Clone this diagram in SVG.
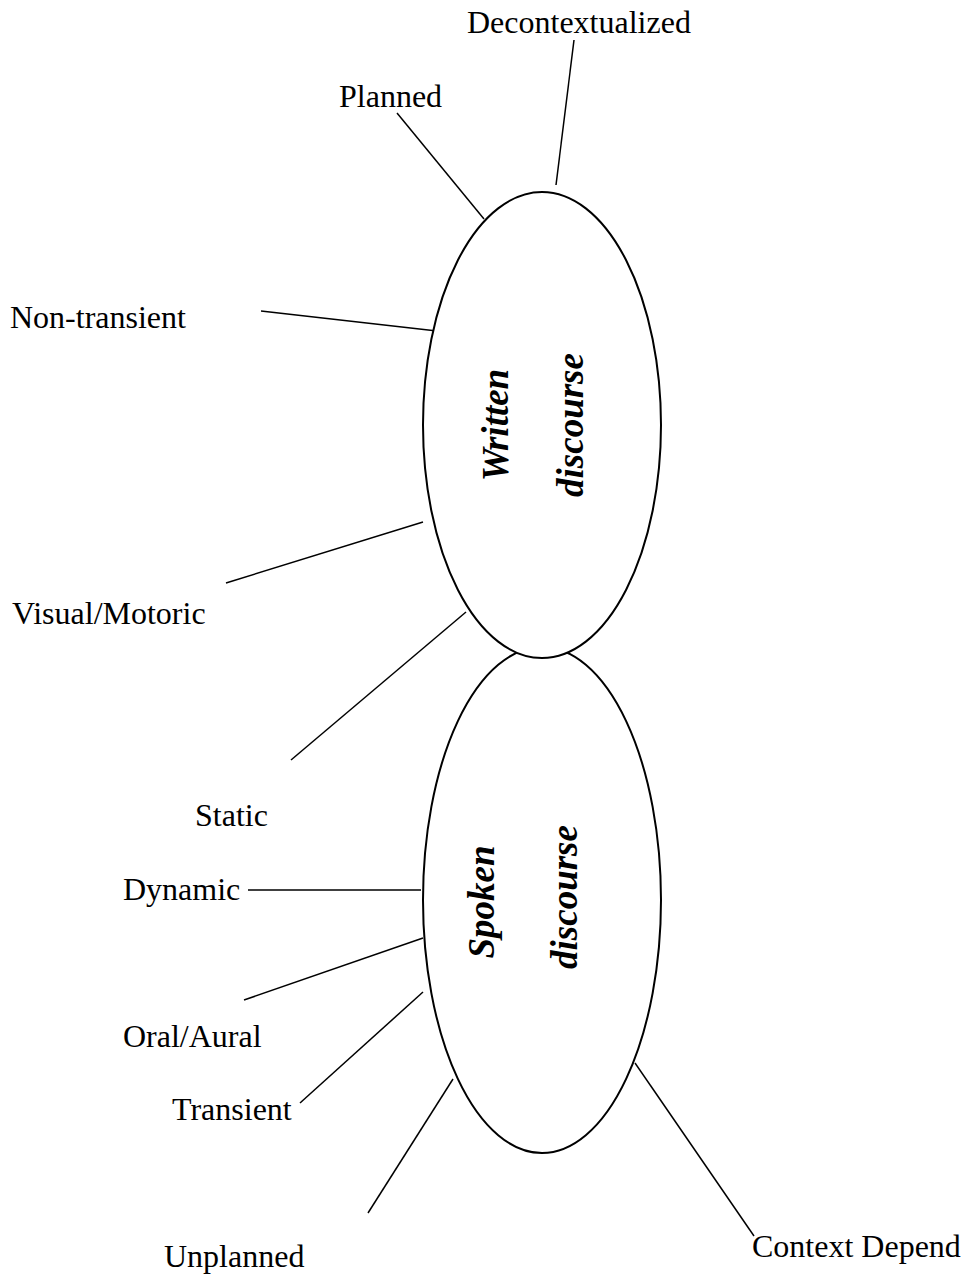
<svg xmlns="http://www.w3.org/2000/svg" width="964" height="1276" viewBox="0 0 964 1276">
<style>
.bg{fill:#ffffff}
.ell{fill:#ffffff;stroke:#000;stroke-width:2}
.lbl{font-family:"Liberation Serif","Times New Roman",serif;font-size:32px;fill:#000}
.title{font-family:"Liberation Serif","Times New Roman",serif;font-size:37px;font-weight:bold;font-style:italic;fill:#000;text-anchor:middle}
.conn line{stroke:#000;stroke-width:1.5}
</style>
<rect class="bg" x="0" y="0" width="964" height="1276"/>
<g id="connectors" class="conn">
<line x1="574" y1="40" x2="556" y2="185"/>
<line x1="397" y1="113" x2="484" y2="219"/>
<line x1="261" y1="311" x2="437" y2="331"/>
<line x1="226" y1="583" x2="423" y2="522"/>
<line x1="291" y1="760" x2="466" y2="612"/>
<line x1="248" y1="890" x2="421" y2="890"/>
<line x1="244" y1="1000" x2="423" y2="938"/>
<line x1="300" y1="1103" x2="423" y2="992"/>
<line x1="368" y1="1213" x2="453" y2="1079"/>
<line x1="635" y1="1063" x2="754" y2="1236"/>
</g>
<g id="spoken">
<ellipse class="ell" cx="542" cy="900" rx="119" ry="253"/>
<text class="title" transform="translate(494,902) rotate(-90)">Spoken</text>
<text class="title" transform="translate(577,897) rotate(-90)">discourse</text>
</g>
<g id="written">
<ellipse class="ell" cx="542" cy="425" rx="119" ry="233"/>
<text class="title" transform="translate(508,425) rotate(-90)">Written</text>
<text class="title" transform="translate(583,425) rotate(-90)">discourse</text>
</g>
<g id="decontextualized"><text class="lbl" x="467" y="33">Decontextualized</text></g>
<g id="planned"><text class="lbl" x="339" y="107">Planned</text></g>
<g id="non-transient"><text class="lbl" x="10" y="328">Non-transient</text></g>
<g id="visual-motoric"><text class="lbl" x="12" y="624">Visual/Motoric</text></g>
<g id="static"><text class="lbl" x="195" y="826">Static</text></g>
<g id="dynamic"><text class="lbl" x="123" y="900">Dynamic</text></g>
<g id="oral-aural"><text class="lbl" x="123" y="1047">Oral/Aural</text></g>
<g id="transient"><text class="lbl" x="172" y="1120">Transient</text></g>
<g id="unplanned"><text class="lbl" x="164" y="1267">Unplanned</text></g>
<g id="context-depend"><text class="lbl" x="752" y="1257">Context Depend</text></g>
</svg>
